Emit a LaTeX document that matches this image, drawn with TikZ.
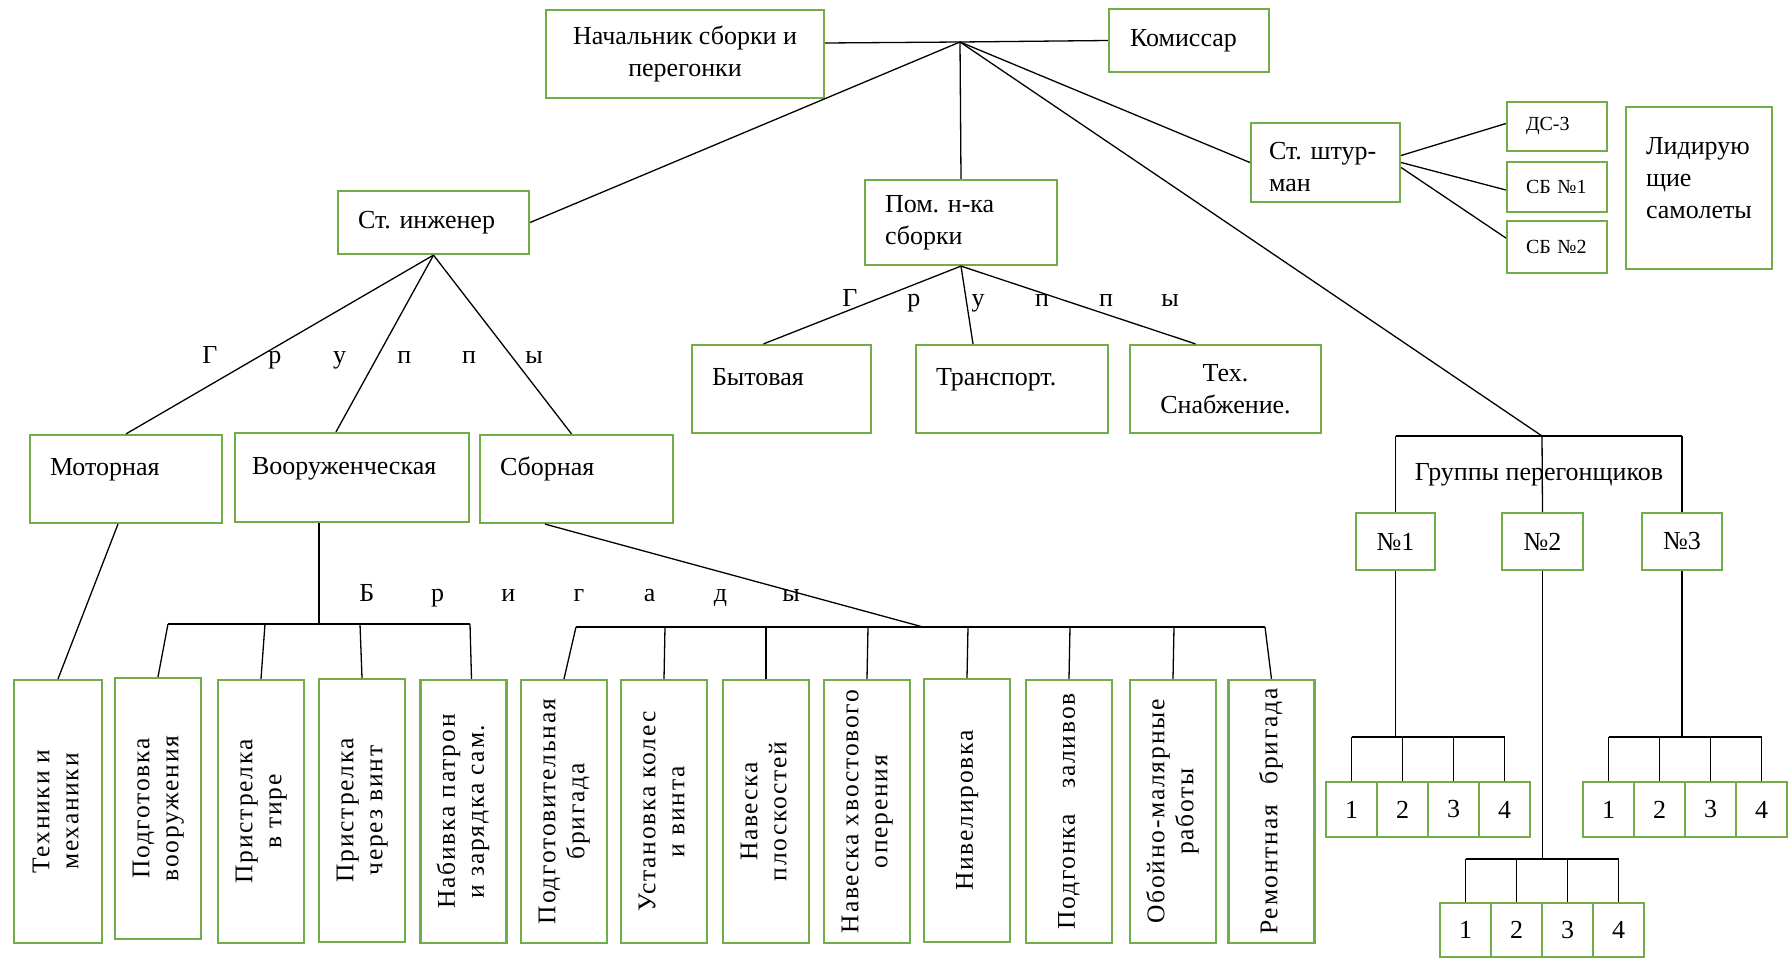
\documentclass[tikz,border=0pt]{standalone}
\usepackage{fontspec}
\setmainfont{Liberation Serif}
\newfontfamily\vfont[LetterSpace=7]{Liberation Serif}
\definecolor{boxgreen}{RGB}{112,173,71}
\newcommand\vt[1]{\rotatebox{90}{\begin{tabular}{@{}c@{}}#1\end{tabular}}}
\frenchspacing
\begin{document}
\begin{tikzpicture}[x=1pt,y=-1pt,
  gbox/.style={draw=boxgreen,line width=2.2pt,inner sep=0pt,font=\fontsize{26}{32}\selectfont},
  conn/.style={line width=1.3pt},
  lbl/.style={inner sep=0pt,font=\fontsize{26}{32}\selectfont},
  up10/.style={text height=18pt,text depth=25pt},
  tall/.style={gbox,minimum width=86,minimum height=263,font=\vfont\fontsize{25.5}{29}\selectfont},
  dig/.style={gbox,minimum width=51,minimum height=55},
  nbox/.style={gbox,minimum height=57},
]
\useasboundingbox (0,0) rectangle (1791,958);
% top level
\node[gbox,minimum width=278,minimum height=88,align=center] (nach) at (685,54) {Начальник сборки и\\перегонки};
\node[gbox,minimum width=160,minimum height=63,text width=118,align=left] (kom) at (1189,40.5) {Комиссар};
\node[gbox,minimum width=191,minimum height=63,text width=151,align=left] (ing) at (433.5,222.5) {Ст. инженер};
\node[gbox,minimum width=192,minimum height=85,text width=152,align=left] (pom) at (961,222.5) {Пом. н-ка\\сборки};
\node[gbox,minimum width=149,minimum height=79,text width=129,align=left,text height=18pt,text depth=24pt] (shtur) at (1325.5,162.5) {\hspace*{8pt}Ст. штур-\\\hspace*{8pt}ман};
\node[gbox,minimum width=100,minimum height=49,text width=62,align=left,font=\fontsize{20}{24}\selectfont] (ds) at (1557,126.5) {ДС-3};
\node[gbox,minimum width=100,minimum height=50,text width=62,align=left,font=\fontsize{20}{24}\selectfont] (sb1) at (1557,187) {СБ №1};
\node[gbox,minimum width=100,minimum height=52,text width=62,align=left,font=\fontsize{20}{24}\selectfont] (sb2) at (1557,247) {СБ №2};
\node[gbox,minimum width=146,minimum height=162,text width=106,align=left,text height=18pt,text depth=85pt] (lid) at (1699,188) {Лидирую\\щие\\самолеты};
% groups
\node[gbox,up10,minimum width=192,minimum height=88,text width=152,align=left] (mot) at (126,479) {Моторная};
\node[gbox,up10,minimum width=234,minimum height=89,text width=200,align=left] (voor) at (352,477.5) {Вооруженческая};
\node[gbox,up10,minimum width=193,minimum height=88,text width=153,align=left] (sbor) at (576.5,479) {Сборная};
\node[gbox,up10,minimum width=179,minimum height=88,text width=139,align=left] (byt) at (781.5,389) {Бытовая};
\node[gbox,up10,minimum width=192,minimum height=88,text width=152,align=left] (trans) at (1012,389) {Транспорт.};
\node[gbox,minimum width=191,minimum height=88,align=center] (tex) at (1225.5,389) {Тех.\\Снабжение.};
% spaced labels
\node[lbl,anchor=base] (gr1) at (372,363) {\makebox[64.8pt]{Г}\makebox[64.8pt]{р}\makebox[64.8pt]{у}\makebox[64.8pt]{п}\makebox[64.8pt]{п}\makebox[64.8pt]{ы}};
\node[lbl,anchor=base] (gr2) at (1010,306) {\makebox[64pt]{Г}\makebox[64pt]{р}\makebox[64pt]{у}\makebox[64pt]{п}\makebox[64pt]{п}\makebox[64pt]{ы}};
\node[lbl,anchor=base] (brig) at (579,601) {\makebox[70.7pt]{Б}\makebox[70.7pt]{р}\makebox[70.7pt]{и}\makebox[70.7pt]{г}\makebox[70.7pt]{а}\makebox[70.7pt]{д}\makebox[70.7pt]{ы}};
% tall boxes
\node[tall,minimum width=88] (t1) at (58,811.5) {\vt{Техники и\\механики}};
\node[tall,minimum height=261] (t2) at (158,808.5) {\vt{Подготовка\\вооружения}};
\node[tall] (t3) at (261,811.5) {\vt{Пристрелка\\в тире}};
\node[tall] (t4) at (362,810.5) {\vt{Пристрелка\\через винт}};
\node[tall] (t5) at (463.5,811.5) {\vt{Набивка патрон\\и зарядка сам.}};
\node[tall] (t6) at (564,811.5) {\vt{Подготовительная\\бригада}};
\node[tall] (t7) at (664,811.5) {\vt{Установка колес\\и винта}};
\node[tall] (t8) at (766,811.5) {\vt{Навеска\\плоскостей}};
\node[tall] (t9) at (867,811.5) {\vt{Навеска хвостового\\оперения}};
\node[tall] (t10) at (967,810.5) {\vt{Нивелировка}};
\node[tall] (t11) at (1069,811.5) {\vt{Подгонка\hspace{1em}заливов}};
\node[tall] (t12) at (1173,811.5) {\vt{Обойно-малярные\\работы}};
\node[tall] (t13) at (1271.5,811.5) {\vt{Ремонтная\hspace{0.8em}бригада}};
% ferry groups
\node[lbl] (gpl) at (1539,475) {Группы перегонщиков};
\node[nbox,minimum width=79] (n1) at (1395.5,541.5) {№1};
\node[nbox,minimum width=81] (n2) at (1542.5,541.5) {№2};
\node[nbox,minimum width=80] (n3) at (1682,541.5) {№3};
\node[dig] (a1) at (1351.5,809.5) {1};
\node[dig] (a2) at (1402.5,809.5) {2};
\node[dig] (a3) at (1453.5,809.5) {3};
\node[dig] (a4) at (1504.5,809.5) {4};
\node[dig,minimum height=54] (b1) at (1465.5,930) {1};
\node[dig,minimum height=54] (b2) at (1516.5,930) {2};
\node[dig,minimum height=54] (b3) at (1567.5,930) {3};
\node[dig,minimum height=54] (b4) at (1618.5,930) {4};
\node[dig] (d1) at (1608.5,809.5) {1};
\node[dig] (d2) at (1659.5,809.5) {2};
\node[dig] (d3) at (1710.5,809.5) {3};
\node[dig] (d4) at (1761.5,809.5) {4};
% connectors
\coordinate (hub) at (960,42);
\draw[conn] ([yshift=11pt]nach.east) -- (hub) -- (kom.west);
\draw[conn] (hub) -- (ing.east);
\draw[conn] (hub) -- (pom.north);
\draw[conn] (hub) -- (shtur.west);
\coordinate (gp) at (1542,436);
\draw[conn] (hub) -- (gp);
\draw[conn] ([yshift=7pt]shtur.east) -- ([yshift=3pt]ds.west);
\draw[conn] (shtur.east) -- ([yshift=-3pt]sb1.west);
\draw[conn] ([yshift=-5pt]shtur.east) -- ([yshift=9pt]sb2.west);
\draw[conn] (ing.south) -- (mot.north);
\draw[conn] (ing.south) -- ([xshift=-16pt]voor.north);
\draw[conn] (ing.south) -- ([xshift=-5pt]sbor.north);
\draw[conn] (pom.south) -- ([xshift=-18pt]byt.north);
\draw[conn] (pom.south) -- ([xshift=-39pt]trans.north);
\draw[conn] (pom.south) -- ([xshift=-30pt]tex.north);
\draw[conn] ([xshift=-8pt]mot.south) -- (t1.north);
% armament brigades
\coordinate (vb) at (319,624);
\coordinate (vb1) at (168,624);
\coordinate (vb2) at (265,624);
\coordinate (vb3) at (360,624);
\coordinate (vb4) at (470,624);
\draw[conn] ([xshift=-33pt]voor.south) -- (vb);
\draw[conn] (vb1) -- (vb4);
\draw[conn] (vb1) -- (t2.north);
\draw[conn] (vb2) -- (t3.north);
\draw[conn] (vb3) -- (t4.north);
\draw[conn] (vb4) -- ([xshift=8pt]t5.north);
% assembly brigades
\coordinate (sj) at (923,627);
\coordinate (c1) at (576,627);
\coordinate (c2) at (665,627);
\coordinate (c3) at (766,627);
\coordinate (c4) at (868,627);
\coordinate (c5) at (968,627);
\coordinate (c6) at (1070,627);
\coordinate (c7) at (1174,627);
\coordinate (c8) at (1265,627);
\draw[conn] ([xshift=-31.5pt]sbor.south) -- (sj);
\draw[conn] (c1) -- (c8);
\draw[conn] (c1) -- (t6.north);
\draw[conn] (c2) -- (t7.north);
\draw[conn] (c3) -- (t8.north);
\draw[conn] (c4) -- (t9.north);
\draw[conn] (c5) -- (t10.north);
\draw[conn] (c6) -- (t11.north);
\draw[conn] (c7) -- (t12.north);
\draw[conn] (c8) -- (t13.north);
% ferry groups
\draw[conn] (gp -| n1.north) -- (gp -| n3.north);
\draw[conn] (gp -| n1.north) -- (n1.north);
\draw[conn] (gp) -- (n2.north);
\draw[conn] (gp -| n3.north) -- (n3.north);
\coordinate (g1j) at (1395.5,737);
\coordinate (g2j) at (1542.5,859);
\coordinate (g3j) at (1682,737);
\draw[conn] (n1.south) -- (g1j);
\draw[conn] (n2.south) -- (g2j);
\draw[conn] (n3.south) -- (g3j);
\draw[conn] (g1j -| a1.north) -- (g1j -| a4.north);
\draw[conn] (g2j -| b1.north) -- (g2j -| b4.north);
\draw[conn] (g3j -| d1.north) -- (g3j -| d4.north);
\foreach \n in {a1,a2,a3,a4} \draw[conn] (\n.north) -- (g1j -| \n.north);
\foreach \n in {b1,b2,b3,b4} \draw[conn] (\n.north) -- (g2j -| \n.north);
\foreach \n in {d1,d2,d3,d4} \draw[conn] (\n.north) -- (g3j -| \n.north);
\end{tikzpicture}
\end{document}
